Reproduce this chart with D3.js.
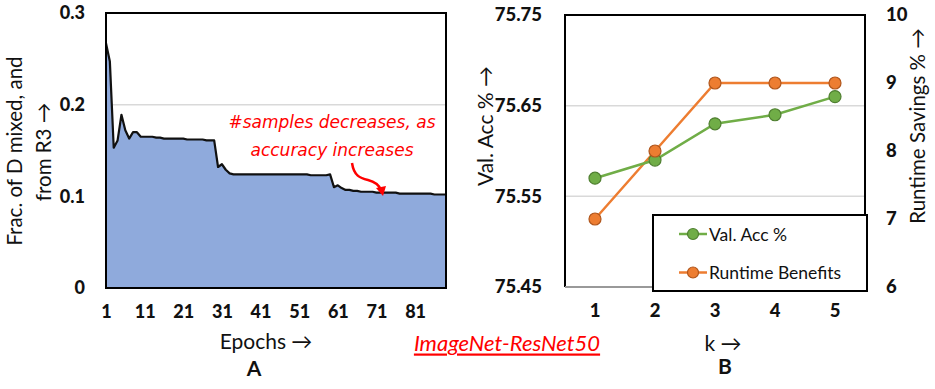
<!DOCTYPE html>
<html><head><meta charset="utf-8">
<script src="https://cdn.jsdelivr.net/npm/d3@7"></script>
<style>
body{margin:0;background:#fff;}
svg{display:block;font-family:Lato, "Open Sans", sans-serif;}
</style></head>
<body>
<svg id="c" width="935" height="389"></svg>
<script>
// ---------- Data ----------
const epochs = d3.range(1, 90);
const fracMixed = [
 0.267,0.247,0.153,0.161,0.189,0.172,0.163,0.170,0.170,0.165,
 0.165,0.165,0.165,0.164,0.164,0.163,0.163,0.163,0.163,0.163,
 0.163,0.162,0.162,0.162,0.162,0.162,0.161,0.161,0.161,0.132,
 0.135,0.129,0.125,0.124,0.124,0.124,0.124,0.124,0.124,0.124,
 0.124,0.124,0.124,0.124,0.124,0.124,0.124,0.124,0.124,0.124,
 0.124,0.124,0.124,0.123,0.123,0.123,0.123,0.123,0.124,0.110,
 0.112,0.109,0.107,0.107,0.106,0.106,0.105,0.105,0.105,0.105,
 0.104,0.104,0.104,0.104,0.104,0.104,0.103,0.103,0.103,0.103,
 0.103,0.103,0.103,0.103,0.103,0.102,0.102,0.102,0.102
];
const epochTicks = [1,11,21,31,41,51,61,71,81];
const fracTicks = [0,0.1,0.2,0.3];

const kValues = ["1","2","3","4","5"];
const valAcc = [75.57,75.59,75.63,75.64,75.66];
const runtimeBenefits = [7,8,9,9,9];
const accTicks = [75.45,75.55,75.65,75.75];
const savingTicks = [6,7,8,9,10];

const red = "#ff0000";
const svg = d3.select("#c");

// ---------- Panel A ----------
const A = {l:106, r:446, t:13, b:288};
const xA = d3.scaleLinear().domain([1,89]).range([A.l, A.r]);
const yA = d3.scaleLinear().domain([0,0.3]).range([A.b, A.t]);

const gA = svg.append("g");
gA.selectAll("line.grid").data([0.1,0.2]).join("line")
  .attr("x1", A.l).attr("x2", A.r)
  .attr("y1", d=>yA(d)).attr("y2", d=>yA(d))
  .attr("stroke", "#d9d9d9").attr("stroke-width", 1.5);

const pts = epochs.map((e,i)=>[e, fracMixed[i]]);
gA.append("path").datum(pts)
  .attr("d", d3.area().x(d=>xA(d[0])).y0(yA(0)).y1(d=>yA(d[1])))
  .attr("fill", "#8faadc");
gA.append("path").datum(pts)
  .attr("d", d3.line().x(d=>xA(d[0])).y(d=>yA(d[1])))
  .attr("fill", "none").attr("stroke", "#111").attr("stroke-width", 2.2)
  .attr("stroke-linejoin","round");

gA.append("rect").attr("x", A.l).attr("y", A.t)
  .attr("width", A.r-A.l).attr("height", A.b-A.t)
  .attr("fill","none").attr("stroke","#000").attr("stroke-width",2);

const axYA = gA.append("g").attr("transform", `translate(${A.l-18},0)`)
  .call(d3.axisLeft(yA).tickValues(fracTicks).tickSize(0).tickFormat(d=>d===0?"0":d3.format(".1f")(d)));
const axXA = gA.append("g").attr("transform", `translate(0,${A.b+14})`)
  .call(d3.axisBottom(xA).tickValues(epochTicks).tickSize(0).tickFormat(d3.format("d")));
[axYA, axXA].forEach(ax=>{
  ax.select(".domain").remove();
  ax.selectAll("text").attr("font-family","Lato, sans-serif").attr("font-size",18)
    .attr("font-weight",900).attr("fill","#111");
});

gA.append("text").attr("transform","translate(14,151) rotate(-90)")
  .attr("text-anchor","middle").attr("dominant-baseline","central")
  .attr("font-size",20.5).attr("fill","#111").text("Frac. of D mixed, and");
gA.append("text").attr("transform","translate(43,152) rotate(-90)")
  .attr("text-anchor","middle").attr("dominant-baseline","central")
  .attr("font-size",20.5).attr("fill","#111").text("from R3 \u2192");
gA.append("text").attr("x",266).attr("y",340).attr("text-anchor","middle")
  .attr("dominant-baseline","central").attr("font-size",21).attr("fill","#111").text("Epochs \u2192");
gA.append("text").attr("x",254).attr("y",367).attr("text-anchor","middle")
  .attr("dominant-baseline","central").attr("font-size",21).attr("font-weight",700).attr("fill","#111").text("A");

// annotation
const annFont = "'DejaVu Sans', sans-serif";
gA.append("text").attr("x",332).attr("y",128).attr("text-anchor","middle")
  .attr("font-family",annFont).attr("font-size",17).attr("font-style","italic")
  .attr("fill",red).text("#samples decreases, as");
gA.append("text").attr("x",332).attr("y",156).attr("text-anchor","middle")
  .attr("font-family",annFont).attr("font-size",17).attr("font-style","italic")
  .attr("fill",red).text("accuracy increases");
gA.append("path").attr("d","M352,163 C354,176 360,178 368,180 C376,182 379,185 381,190")
  .attr("fill","none").attr("stroke",red).attr("stroke-width",2.5);
gA.append("path").attr("d","M376,188 L383,196 L386,186 Z").attr("fill",red);

// ---------- Center label ----------
svg.append("text").attr("x",507).attr("y",342).attr("text-anchor","middle")
  .attr("dominant-baseline","central").attr("font-size",22).attr("font-style","italic")
  .attr("text-decoration","underline").attr("fill",red).text("ImageNet-ResNet50");

// ---------- Panel B ----------
const B = {l:565, r:865, t:15, b:287};
const xB = d3.scaleBand().domain(kValues).range([B.l, B.r]);
const yB = d3.scaleLinear().domain([75.45,75.75]).range([B.b, B.t]);
const yB2 = d3.scaleLinear().domain([6,10]).range([B.b, B.t]);
const cx = d => xB(d) + xB.bandwidth()/2;

const gB = svg.append("g");
gB.selectAll("line.grid").data([75.55,75.65]).join("line")
  .attr("x1", B.l).attr("x2", B.r)
  .attr("y1", d=>yB(d)).attr("y2", d=>yB(d))
  .attr("stroke", "#d9d9d9").attr("stroke-width", 1.5);
gB.append("path").attr("d",`M${B.l},${B.b} V${B.t} H${B.r} V${B.b}`)
  .attr("fill","none").attr("stroke","#000").attr("stroke-width",2);
gB.append("line").attr("x1",B.l).attr("x2",B.r).attr("y1",B.b).attr("y2",B.b)
  .attr("stroke","#999").attr("stroke-width",2);

const green = "#70ad47", greenDark = "#4f7f30", orange = "#ed7d31", orangeDark = "#b0561c";
gB.append("path").datum(kValues.map((k,i)=>[k,runtimeBenefits[i]]))
  .attr("d", d3.line().x(d=>cx(d[0])).y(d=>yB2(d[1])))
  .attr("fill","none").attr("stroke",orange).attr("stroke-width",2.5);
gB.append("path").datum(kValues.map((k,i)=>[k,valAcc[i]]))
  .attr("d", d3.line().x(d=>cx(d[0])).y(d=>yB(d[1])))
  .attr("fill","none").attr("stroke",green).attr("stroke-width",2.5);
gB.selectAll("circle.g").data(kValues.map((k,i)=>[k,valAcc[i]])).join("circle")
  .attr("cx",d=>cx(d[0])).attr("cy",d=>yB(d[1])).attr("r",6)
  .attr("fill",green).attr("stroke",greenDark).attr("stroke-width",1.2);
gB.selectAll("circle.o").data(kValues.map((k,i)=>[k,runtimeBenefits[i]])).join("circle")
  .attr("cx",d=>cx(d[0])).attr("cy",d=>yB2(d[1])).attr("r",6)
  .attr("fill",orange).attr("stroke",orangeDark).attr("stroke-width",1.2);

const axYB = gB.append("g").attr("transform",`translate(${B.l-20},0)`)
  .call(d3.axisLeft(yB).tickValues(accTicks).tickSize(0).tickFormat(d3.format(".2f")));
const axYB2 = gB.append("g").attr("transform",`translate(${B.r+18},0)`)
  .call(d3.axisRight(yB2).tickValues(savingTicks).tickSize(0).tickFormat(d3.format("d")));
const axXB = gB.append("g").attr("transform",`translate(0,${B.b+14})`)
  .call(d3.axisBottom(xB).tickSize(0));
[axYB, axYB2, axXB].forEach(ax=>{
  ax.select(".domain").remove();
  ax.selectAll("text").attr("font-family","Lato, sans-serif").attr("font-size",18.5)
    .attr("font-weight",900).attr("fill","#111");
});

gB.append("text").attr("transform","translate(484,126) rotate(-90)")
  .attr("text-anchor","middle").attr("dominant-baseline","central")
  .attr("font-size",21).attr("fill","#111").text("Val. Acc % \u2192");
gB.append("text").attr("transform","translate(917,126) rotate(-90)")
  .attr("text-anchor","middle").attr("dominant-baseline","central")
  .attr("font-size",20.5).attr("fill","#111").text("Runtime Savings % \u2192");
gB.append("text").attr("x",723).attr("y",342).attr("text-anchor","middle")
  .attr("dominant-baseline","central").attr("font-size",21).attr("fill","#111").text("k \u2192");
gB.append("text").attr("x",725).attr("y",365).attr("text-anchor","middle")
  .attr("dominant-baseline","central").attr("font-size",21).attr("font-weight",700).attr("fill","#111").text("B");

// legend
const lg = gB.append("g");
lg.append("rect").attr("x",653).attr("y",215).attr("width",214).attr("height",76)
  .attr("fill","#fff").attr("stroke","#000").attr("stroke-width",2);
const legendItems = [
  {name:"Val. Acc %", c:green, s:greenDark, y:234},
  {name:"Runtime Benefits", c:orange, s:orangeDark, y:272.5}
];
legendItems.forEach(it=>{
  lg.append("line").attr("x1",679).attr("x2",707).attr("y1",it.y).attr("y2",it.y)
    .attr("stroke",it.c).attr("stroke-width",2.5);
  lg.append("circle").attr("cx",693).attr("cy",it.y).attr("r",5.5)
    .attr("fill",it.c).attr("stroke",it.s).attr("stroke-width",1.2);
  lg.append("text").attr("x",709).attr("y",it.y).attr("dominant-baseline","central")
    .attr("font-size",17.5).attr("fill","#111").text(it.name);
});
</script>
</body></html>
